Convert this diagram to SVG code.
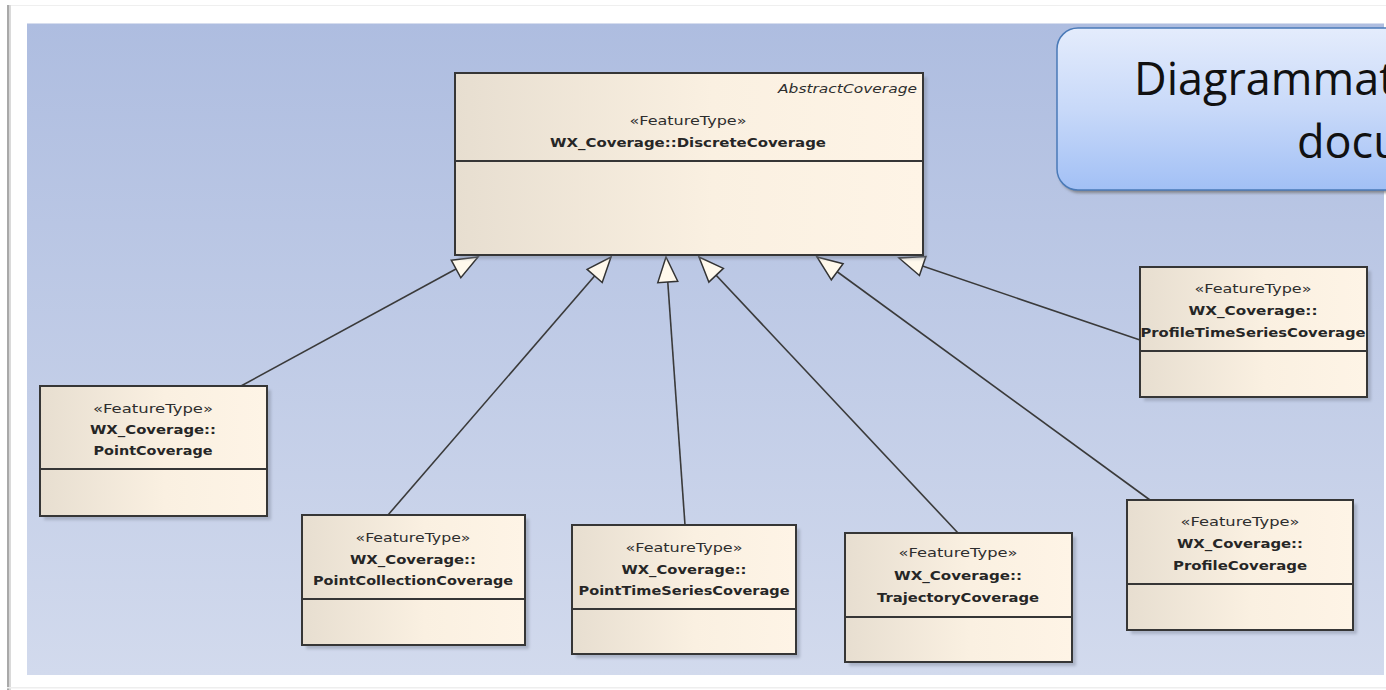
<svg xmlns="http://www.w3.org/2000/svg" width="1386" height="690" viewBox="0 0 1386 690">
  <style>
    .box { fill: url(#boxFill); stroke: #363636; stroke-width: 2; }
    .shadow { fill: #7d8598; opacity: 0.45; filter: url(#blur); }
    .div { stroke: #363636; stroke-width: 2; }
    .st { font-family: "DejaVu Sans", "Liberation Sans", sans-serif; font-size: 11.5px; fill: #2e2e2e; text-anchor: middle; }
    .nm { font-family: "DejaVu Sans", "Liberation Sans", sans-serif; font-size: 13px; font-weight: bold; fill: #262626; text-anchor: middle; }
    .ab { font-family: "DejaVu Sans", "Liberation Sans", sans-serif; font-size: 12px; font-style: italic; fill: #2e2e2e; text-anchor: end; }
    .conn { stroke: #3a3a3a; stroke-width: 1.6; fill: none; marker-end: url(#gen); }
    .callout-text { font-family: "Open Sans", "Liberation Sans", sans-serif; font-size: 45px; fill: #111; }
  </style>
  <defs>
    <linearGradient id="bg" x1="0" y1="0" x2="0" y2="1">
      <stop offset="0" stop-color="#AEBDE0"/>
      <stop offset="1" stop-color="#D2DAED"/>
    </linearGradient>
    <linearGradient id="boxFill" x1="0" y1="0" x2="1" y2="0">
      <stop offset="0" stop-color="#E7DED0"/>
      <stop offset="0.55" stop-color="#FAF0E1"/>
      <stop offset="1" stop-color="#FEF4E6"/>
    </linearGradient>
    <linearGradient id="calloutFill" x1="0" y1="0" x2="0" y2="1">
      <stop offset="0" stop-color="#E4ECFC"/>
      <stop offset="0.5" stop-color="#C8D9F9"/>
      <stop offset="1" stop-color="#A2C0F5"/>
    </linearGradient>
    <filter id="blur" x="-10%" y="-10%" width="120%" height="120%">
      <feGaussianBlur stdDeviation="1.5"/>
    </filter>
    <marker id="gen" markerUnits="userSpaceOnUse" viewBox="-1 -1 28 22" markerWidth="28" markerHeight="22" refX="25" refY="10" orient="auto" overflow="visible">
      <path d="M0,0 L25,10 L0,20 Z" fill="#FFF9EC" stroke="#333" stroke-width="1.5" stroke-linejoin="miter"/>
    </marker>
  </defs>

  <!-- page -->
  <rect x="0" y="0" width="1386" height="690" fill="#FFFFFF"/>
  <rect x="7" y="5" width="1379" height="1" fill="#EFEFEF"/>
  <rect x="7" y="5" width="2.5" height="685" fill="#A9A9A9"/>
  <rect x="9.5" y="5" width="1.5" height="685" fill="#DADADA"/>
  <rect x="7" y="687" width="1379" height="1.5" fill="#EEEEEE"/>

  <!-- diagram background -->
  <rect x="27" y="23" width="1357" height="652" fill="url(#bg)"/>
  <rect x="27" y="23" width="1357" height="1" fill="#D6DDEE"/>

  <!-- callout -->
  <g id="callout">
    <rect x="1059" y="31" width="420" height="162" rx="21" ry="21" fill="#6f6f6f" opacity="0.75" filter="url(#blur)"/>
    <rect x="1057" y="28" width="420" height="162" rx="21" ry="21" fill="url(#calloutFill)" stroke="#4A7AB8" stroke-width="1.5"/>
    <text class="callout-text" x="1134" y="95">Diagrammat</text>
    <text class="callout-text" x="1297" y="158">docu</text>
  </g>

  <!-- connectors -->
  <g id="connectors">
    <line class="conn" x1="241" y1="386" x2="478" y2="257"/>
    <line class="conn" x1="388" y1="515" x2="611" y2="257"/>
    <line class="conn" x1="685" y1="525" x2="666" y2="257"/>
    <line class="conn" x1="958" y1="533" x2="699" y2="257"/>
    <line class="conn" x1="1150" y1="500" x2="817" y2="257"/>
    <line class="conn" x1="1140" y1="340" x2="899" y2="258"/>
  </g>

  <!-- main class -->
  <g id="DiscreteCoverage">
    <rect class="shadow" x="459" y="77" width="468" height="182"/>
    <rect class="box" x="455" y="73" width="468" height="182"/>
    <line class="div" x1="455" y1="161" x2="923" y2="161"/>
    <text class="ab" x="917" y="93" textLength="139" lengthAdjust="spacingAndGlyphs">AbstractCoverage</text>
    <text class="st" x="688" y="125" textLength="117" lengthAdjust="spacingAndGlyphs">«FeatureType»</text>
    <text class="nm" x="688" y="147" textLength="276" lengthAdjust="spacingAndGlyphs">WX_Coverage::DiscreteCoverage</text>
  </g>

  <g id="PointCoverage">
    <rect class="shadow" x="44" y="390" width="227" height="130"/>
    <rect class="box" x="40" y="386" width="227" height="130"/>
    <line class="div" x1="40" y1="469" x2="267" y2="469"/>
    <text class="st" x="153" y="413" textLength="120" lengthAdjust="spacingAndGlyphs">«FeatureType»</text>
    <text class="nm" x="153" y="434" textLength="126" lengthAdjust="spacingAndGlyphs">WX_Coverage::</text>
    <text class="nm" x="153" y="455" textLength="119" lengthAdjust="spacingAndGlyphs">PointCoverage</text>
  </g>

  <g id="PointCollectionCoverage">
    <rect class="shadow" x="306" y="519" width="223" height="130"/>
    <rect class="box" x="302" y="515" width="223" height="130"/>
    <line class="div" x1="302" y1="599" x2="525" y2="599"/>
    <text class="st" x="413" y="542" textLength="115" lengthAdjust="spacingAndGlyphs">«FeatureType»</text>
    <text class="nm" x="413" y="564" textLength="126" lengthAdjust="spacingAndGlyphs">WX_Coverage::</text>
    <text class="nm" x="413" y="585" textLength="200" lengthAdjust="spacingAndGlyphs">PointCollectionCoverage</text>
  </g>

  <g id="PointTimeSeriesCoverage">
    <rect class="shadow" x="576" y="529" width="224" height="129"/>
    <rect class="box" x="572" y="525" width="224" height="129"/>
    <line class="div" x1="572" y1="609" x2="796" y2="609"/>
    <text class="st" x="684" y="552" textLength="117" lengthAdjust="spacingAndGlyphs">«FeatureType»</text>
    <text class="nm" x="684" y="574" textLength="125" lengthAdjust="spacingAndGlyphs">WX_Coverage::</text>
    <text class="nm" x="684" y="595" textLength="211" lengthAdjust="spacingAndGlyphs">PointTimeSeriesCoverage</text>
  </g>

  <g id="TrajectoryCoverage">
    <rect class="shadow" x="849" y="537" width="227" height="129"/>
    <rect class="box" x="845" y="533" width="227" height="129"/>
    <line class="div" x1="845" y1="617" x2="1072" y2="617"/>
    <text class="st" x="958" y="557" textLength="119" lengthAdjust="spacingAndGlyphs">«FeatureType»</text>
    <text class="nm" x="958" y="580" textLength="128" lengthAdjust="spacingAndGlyphs">WX_Coverage::</text>
    <text class="nm" x="958" y="602" textLength="162" lengthAdjust="spacingAndGlyphs">TrajectoryCoverage</text>
  </g>

  <g id="ProfileCoverage">
    <rect class="shadow" x="1131" y="504" width="226" height="130"/>
    <rect class="box" x="1127" y="500" width="226" height="130"/>
    <line class="div" x1="1127" y1="584" x2="1353" y2="584"/>
    <text class="st" x="1240" y="526" textLength="119" lengthAdjust="spacingAndGlyphs">«FeatureType»</text>
    <text class="nm" x="1240" y="548" textLength="126" lengthAdjust="spacingAndGlyphs">WX_Coverage::</text>
    <text class="nm" x="1240" y="570" textLength="134" lengthAdjust="spacingAndGlyphs">ProfileCoverage</text>
  </g>

  <g id="ProfileTimeSeriesCoverage">
    <rect class="shadow" x="1144" y="271" width="227" height="130"/>
    <rect class="box" x="1140" y="267" width="227" height="130"/>
    <line class="div" x1="1140" y1="351" x2="1367" y2="351"/>
    <text class="st" x="1253" y="293" textLength="117" lengthAdjust="spacingAndGlyphs">«FeatureType»</text>
    <text class="nm" x="1253" y="315" textLength="129" lengthAdjust="spacingAndGlyphs">WX_Coverage::</text>
    <text class="nm" x="1253" y="337" textLength="225" lengthAdjust="spacingAndGlyphs">ProfileTimeSeriesCoverage</text>
  </g>
</svg>
